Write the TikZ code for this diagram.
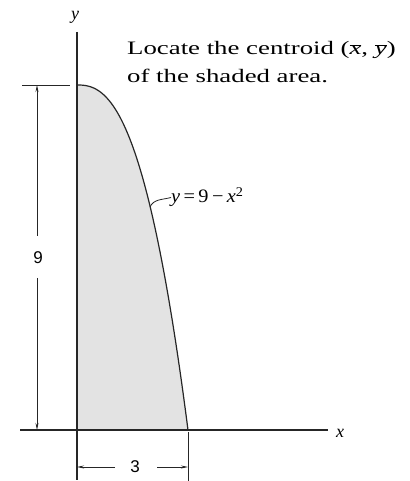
\documentclass[tikz,border=0pt]{standalone}
\usepackage{fontspec}
\setmainfont{Liberation Serif}
\newfontfamily\dimfont{Liberation Sans}
\usetikzlibrary{arrows.meta}
\newcommand\ovbar[1]{$\overline{\mbox{\itshape #1}}$}
\begin{document}
\begin{tikzpicture}[x=1pt,y=1pt,
  axis/.style={line width=1.3pt,black!85},
  curveline/.style={line width=1.2pt,black!85},
  dimline/.style={line width=0.8pt,black!85},
  dimarrow/.style={dimline,-{Stealth[length=7pt,width=3pt]}},
  shade/.style={fill=gray!22},
  dimlabel/.style={font=\dimfont\fontsize{17}{20}\selectfont},
  txt/.style={anchor=base west,inner sep=0pt,font=\fontsize{19}{28}\selectfont}]
\useasboundingbox (0,0) rectangle (409,481);
\coordinate (O) at (77,51);
\coordinate (T) at (77,396);
\coordinate (C) at (188,51);
\coordinate (ytop) at (77,449);
\coordinate (ybot) at (77,1);
\coordinate (xl) at (20,51);
\coordinate (xr) at (328,51);
% shaded area
\fill[shade] (O) -- (T) -- plot[domain=0:1,samples=80] ({77+111*\x},{51+345*(1-\x*\x*sqrt(\x))}) -- cycle;
\draw[curveline] plot[domain=0:1,samples=80] ({77+111*\x},{51+345*(1-\x*\x*sqrt(\x))});
% axes
\draw[axis] (ytop) -- (ybot);
\draw[axis] (xl) -- (xr);
\node[font=\itshape\fontsize{18}{20}\selectfont] (ylab) at (75,464) {y};
\node[font=\itshape\fontsize{18}{20}\selectfont] (xlab) at (340,48) {x};
% dimension 9
\coordinate (e1) at (22,396);
\coordinate (e2) at (70,396);
\draw[dimline] (e1) -- (e2);
\coordinate (d9top) at (37,396);
\coordinate (d9bot) at (37,51);
\node[dimlabel] (nine) at (38,223) {9};
\coordinate (g1) at (37,245);
\coordinate (g2) at (37,203);
\draw[dimarrow] (g1) -- (d9top);
\draw[dimarrow] (g2) -- (d9bot);
% dimension 3
\coordinate (e3) at (188,49);
\coordinate (e4) at (188,0);
\draw[dimline] (e3) -- (e4);
\coordinate (d3l) at (77,14);
\coordinate (d3r) at (188,14);
\coordinate (h1) at (115,14);
\coordinate (h2) at (157,14);
\node[dimlabel] (three) at (135,14) {3};
\draw[dimarrow] (h1) -- (d3l);
\draw[dimarrow] (h2) -- (d3r);
% curve label
\node[anchor=base west,inner sep=0pt,font=\fontsize{19}{20}\selectfont] (eq) at (171,278) {\scalebox{1.07}[1]{\textit{y}\,=\,9\,−\,\textit{x}\textsuperscript{2}}};
\coordinate (cp) at (150,274);
\draw[dimline] (cp) to[out=65,in=195] (eq.west);
% problem text
\node[txt] (prob1) at (127,426) {\scalebox{1.41}[1]{Locate the centroid (\ovbar{x}, \ovbar{y})}};
\node[txt] (prob2) at (127,398) {\scalebox{1.41}[1]{of the shaded area.}};
\end{tikzpicture}
\end{document}
